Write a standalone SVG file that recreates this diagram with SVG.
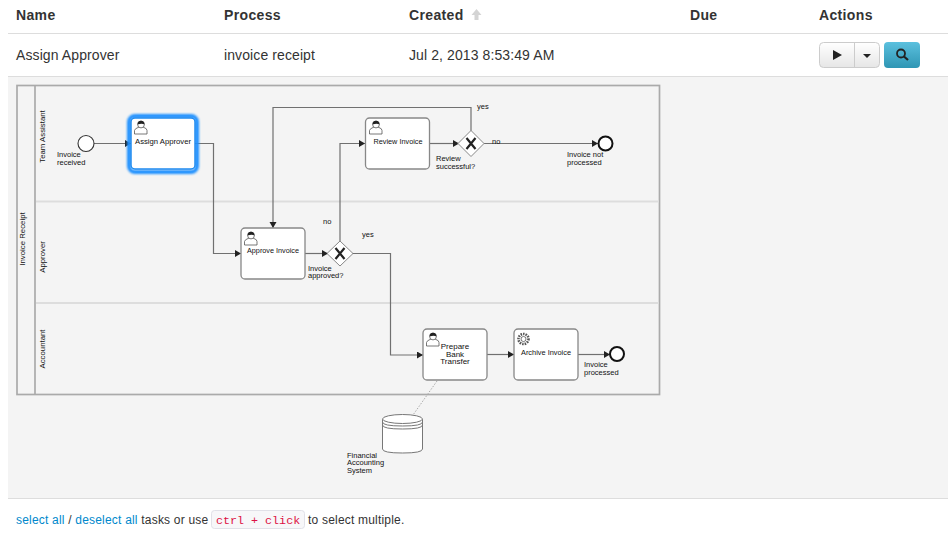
<svg xmlns="http://www.w3.org/2000/svg" width="948" height="535" viewBox="0 0 948 535">
<style>
text{font-family:"Liberation Sans",Arial,sans-serif}
.th{font-size:14px;font-weight:bold;fill:#333;letter-spacing:.35px}
.td{font-size:14px;fill:#333;letter-spacing:.1px}
.sep{stroke:#ddd;stroke-width:1;fill:none}
.pool{fill:none;stroke:#aaa;stroke-width:1.7}
.lane{stroke:#ddd;stroke-width:2;fill:none}
.lbl{font-size:7.5px;fill:#111}
.task{font-size:8px;fill:#111;text-anchor:middle}
.rot{font-size:7.8px;fill:#111;text-anchor:middle}
.box{fill:#fff;stroke:#888;stroke-width:1.3}
.flow{fill:none;stroke:#707070;stroke-width:1.2;marker-end:url(#arrow)}
.gw{fill:#fff;stroke:#888;stroke-width:1}
.x{fill:none;stroke:#222;stroke-width:2.2}
.icon{fill:#fff;stroke:#555;stroke-width:.8}
.hair{fill:#222}
.foot{font-size:12px;letter-spacing:.2px}
</style>
<defs>
<marker id="arrow" markerWidth="8" markerHeight="8" refX="6" refY="3.5" orient="auto" markerUnits="userSpaceOnUse"><path d="M0,0 L6,3.5 L0,7 Z" fill="#222"/></marker>
<linearGradient id="btn" x1="0" y1="0" x2="0" y2="1"><stop offset="0" stop-color="#fff"/><stop offset="1" stop-color="#e6e6e6"/></linearGradient>
<linearGradient id="info" x1="0" y1="0" x2="0" y2="1"><stop offset="0" stop-color="#5bc0de"/><stop offset="1" stop-color="#2f96b4"/></linearGradient>
<filter id="glow" x="-30%" y="-30%" width="160%" height="160%"><feGaussianBlur stdDeviation="1.2"/></filter>
<g id="user"><path class="icon" d="M0.5,14 V10.5 Q1,8.5 4,7.5 L6,6.5 H8 L10,7.5 Q13,8.5 13,10.5 V14 Z"/><circle class="icon" cx="7" cy="4.5" r="3.4"/><path class="hair" d="M3.6,4.5 Q3.5,0.8 7,0.8 Q10.5,0.8 10.4,4.5 Q8,2.8 3.6,4.5 Z"/></g>
</defs>

<rect width="948" height="535" fill="#fff"/>
<rect x="8" y="77" width="940" height="421" fill="#f4f4f4"/>
<path class="sep" d="M8,33.5 H948 M8,76.5 H948 M8,498.5 H948"/>

<g id="table-header">
<text class="th" x="16" y="20">Name</text>
<text class="th" x="224" y="20">Process</text>
<text class="th" x="409" y="20">Created</text>
<path d="M476.500,9 L481.500,15 H478.500 V20 H474.500 V15 H471.500 Z" fill="#d4d4d4"/>
<text class="th" x="690" y="20">Due</text>
<text class="th" x="819" y="20">Actions</text>
</g>
<g id="table-row">
<text class="td" x="16" y="60">Assign Approver</text>
<text class="td" x="224" y="60">invoice receipt</text>
<text class="td" x="409" y="60">Jul 2, 2013 8:53:49 AM</text>
</g>
<g id="actions">
<rect x="819.500" y="42.500" width="60" height="25" rx="4" fill="url(#btn)" stroke="#ccc"/>
<path d="M854.500,43 V67" stroke="#ccc"/>
<path d="M833,50 L842,55 L833,60 Z" fill="#222"/>
<path d="M863,54 H871 L867,58 Z" fill="#222"/>
<rect x="884" y="42" width="36" height="26" rx="4" fill="url(#info)"/>
<circle cx="901" cy="53.500" r="4" fill="none" stroke="#222" stroke-width="1.800"/>
<path d="M904,56.500 L908,60" stroke="#222" stroke-width="2.200"/>
</g>

<g id="pool">
<rect class="pool" x="17" y="85.500" width="642.500" height="309"/>
<path class="pool" d="M35,85.500 V394.500"/>
<path class="lane" d="M36,201.500 H659 M36,303 H659"/>
<text class="rot" transform="translate(24.500,239) rotate(-90)">Invoice Receipt</text>
<text class="rot" transform="translate(45,136.500) rotate(-90)">Team Assistant</text>
<text class="rot" transform="translate(45,257) rotate(-90)">Approver</text>
<text class="rot" transform="translate(45,349) rotate(-90)">Accountant</text>
</g>

<g id="connectors">
<path class="flow" d="M94,143.500 H131"/>
<path class="flow" d="M195,143.500 H213.500 V253.500 H241"/>
<path class="flow" d="M305,253.500 H328"/>
<path class="flow" d="M340,241 V143.500 H365"/>
<path class="flow" d="M352,253.500 H390.500 V355 H423"/>
<path class="flow" d="M429,143.500 H459"/>
<path class="flow" d="M471,131 V107.500 H273 V228"/>
<path class="flow" d="M483,143.500 H598"/>
<path class="flow" d="M487,354.500 H514"/>
<path class="flow" d="M578,354.500 H610"/>
<path d="M437,381 L413,415" fill="none" stroke="#aaa" stroke-width="1" stroke-dasharray="1.500,1.500"/>
</g>

<g id="start-invoice">
<circle cx="86" cy="143.500" r="8" fill="#fff" stroke="#333" stroke-width="1.100"/>
<text class="lbl" x="57" y="157">Invoice</text><text class="lbl" x="57" y="165">received</text>
</g>
<g id="task-assign">
<rect x="129" y="116" width="68" height="56" rx="6" fill="none" stroke="#1e90ff" stroke-width="4" filter="url(#glow)"/>
<rect x="131" y="118" width="64" height="51" rx="4" fill="#fff" stroke="#1f8bf0" stroke-width="1.500"/>
<use href="#user" x="134" y="120"/>
<text class="task" x="163" y="144" textLength="56" lengthAdjust="spacingAndGlyphs">Assign Approver</text>
</g>
<g id="task-review">
<rect class="box" x="365.500" y="118" width="64" height="51" rx="4"/>
<use href="#user" x="369" y="120"/>
<text class="task" x="398" y="144" textLength="49" lengthAdjust="spacingAndGlyphs">Review Invoice</text>
</g>
<g id="gw-review">
<path class="gw" d="M471,130.500 L484,143.500 L471,156.500 L458,143.500 Z"/>
<path class="x" d="M466.500,138 L475.500,149 M475.500,138 L466.500,149"/>
<text class="lbl" x="436" y="161">Review</text><text class="lbl" x="436" y="169">successful?</text>
<text class="lbl" x="477" y="109">yes</text>
<text class="lbl" x="492" y="144">no</text>
</g>
<g id="end-not-processed">
<circle cx="605.500" cy="143.500" r="7" fill="#fff" stroke="#111" stroke-width="2"/>
<text class="lbl" x="567" y="157">Invoice not</text><text class="lbl" x="567" y="165">processed</text>
</g>
<g id="task-approve">
<rect class="box" x="241" y="228" width="64" height="51" rx="4"/>
<use href="#user" x="244" y="231"/>
<text class="task" x="273" y="253" textLength="52" lengthAdjust="spacingAndGlyphs">Approve Invoice</text>
</g>
<g id="gw-approve">
<path class="gw" d="M340,241 L353,253.500 L340,266 L327,253.500 Z"/>
<path class="x" d="M335.500,248 L344.500,259 M344.500,248 L335.500,259"/>
<text class="lbl" x="308" y="271">Invoice</text><text class="lbl" x="308" y="278">approved?</text>
<text class="lbl" x="323" y="224">no</text>
<text class="lbl" x="362" y="237">yes</text>
</g>
<g id="task-prepare">
<rect class="box" x="423" y="329" width="64" height="51" rx="4"/>
<use href="#user" x="426" y="332"/>
<text class="task" x="455" y="349">Prepare</text><text class="task" x="455" y="357">Bank</text><text class="task" x="455" y="364">Transfer</text>
</g>
<g id="task-archive">
<rect class="box" x="514" y="329" width="64" height="51" rx="4"/>
<circle cx="523.500" cy="339" r="5" fill="none" stroke="#555" stroke-width="2.600" stroke-dasharray="1.500,1"/>
<circle cx="523.500" cy="339" r="2.500" fill="none" stroke="#555" stroke-width=".8"/>
<text class="task" x="546" y="355" textLength="50" lengthAdjust="spacingAndGlyphs">Archive Invoice</text>
</g>
<g id="end-processed">
<circle cx="617" cy="354" r="7" fill="#fff" stroke="#111" stroke-width="2"/>
<text class="lbl" x="584" y="367">Invoice</text><text class="lbl" x="584" y="375">processed</text>
</g>
<g id="datastore">
<path d="M382.500,419 V449 Q382.500,453 402.500,453 Q422.500,453 422.500,449 V419" fill="#fff" stroke="#777" stroke-width="1"/>
<ellipse cx="402.500" cy="419" rx="20" ry="4.500" fill="#fff" stroke="#777" stroke-width="1"/>
<path d="M382.500,422 Q382.500,426 402.500,426 Q422.500,426 422.500,422 M382.500,425 Q382.500,429 402.500,429 Q422.500,429 422.500,425" fill="none" stroke="#777" stroke-width="1"/>
<text class="lbl" x="347" y="458">Financial</text><text class="lbl" x="347" y="465">Accounting</text><text class="lbl" x="347" y="473">System</text>
</g>

<g id="footer">
<text class="foot" x="16" y="524"><tspan fill="#0088cc">select all</tspan><tspan fill="#333"> / </tspan><tspan fill="#0088cc">deselect all</tspan><tspan fill="#333"> tasks or use</tspan></text>
<rect x="211.500" y="510.500" width="93" height="18" rx="3" fill="#f7f7f9" stroke="#e1e1e8"/>
<text x="216" y="524" font-size="11.700" style="font-family:'Liberation Mono',monospace" fill="#dd1144">ctrl + click</text>
<text class="foot" x="308" y="524" fill="#333">to select multiple.</text>
</g>
</svg>
